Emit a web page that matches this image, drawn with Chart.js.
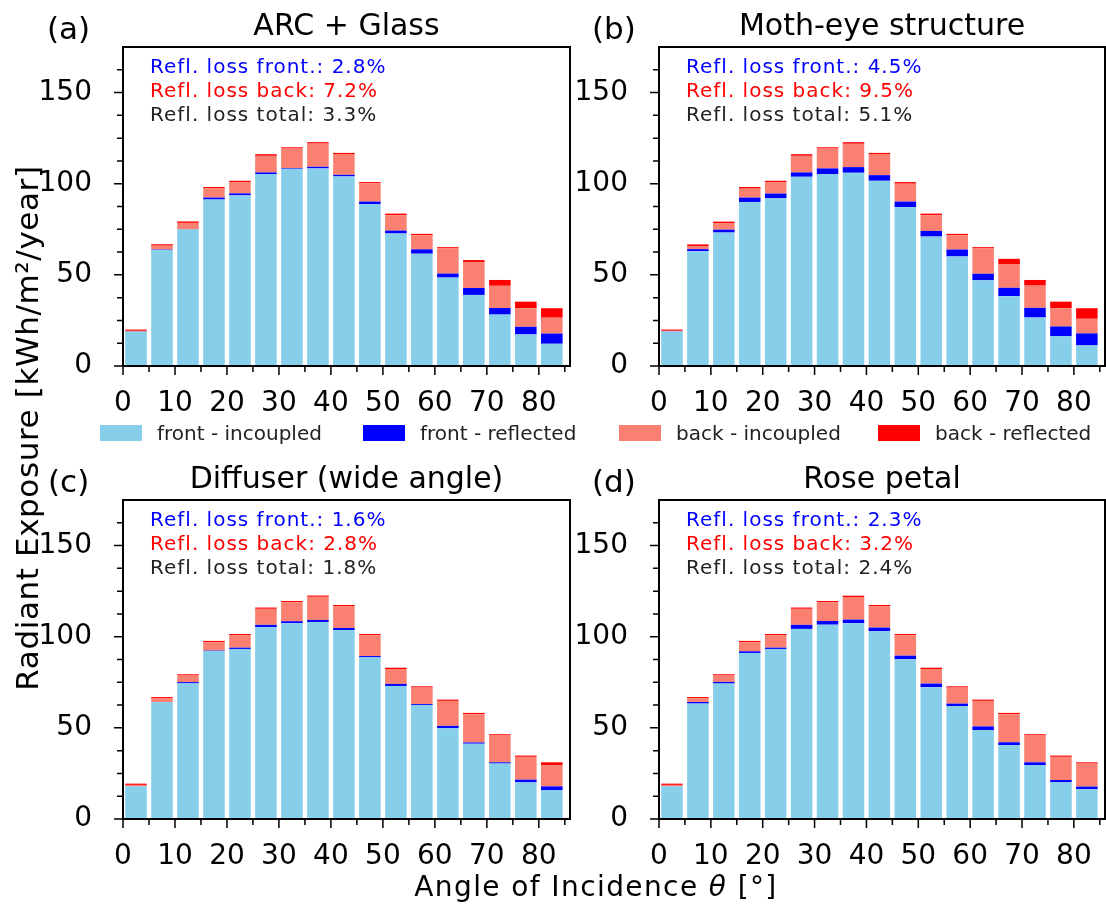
<!DOCTYPE html>
<html>
<head>
<meta charset="utf-8">
<script src="https://cdn.jsdelivr.net/npm/chart.js@4.4.1/dist/chart.umd.min.js"></script>
<style>
  body { margin: 0; background: #fff; }
  #fig { position: relative; width: 1106px; height: 905px; overflow: hidden; font-family: 'DejaVu Sans'; color: #000; }
  #fig canvas { position: absolute; left: 0; top: 0; }
  #ylab { position: absolute; width: 700px; height: 30px; line-height: 30px; font-size: 31px; text-align: center;
          left: -323px; top: 413px; transform: rotate(-90deg); white-space: nowrap; letter-spacing: 0.6px; }
  #xlab { position: absolute; width: 600px; left: 296px; top: 873px; font-size: 28px; line-height: 28px;
          text-align: center; letter-spacing: 1.4px; white-space: nowrap; }
  .leg { position: absolute; top: 423px; height: 20px; line-height: 20px; font-size: 20px; color: #222; white-space: nowrap; }
  .leg span.sw { position: absolute; left: 0; top: 2px; width: 42px; height: 16px; }
  .leg span.tx { position: absolute; left: 57px; top: 0; }
</style>
</head>
<body>
<div id="fig">
  <canvas id="pa" width="1106" height="905"></canvas>
  <canvas id="pb" width="1106" height="905"></canvas>
  <canvas id="pc" width="1106" height="905"></canvas>
  <canvas id="pd" width="1106" height="905"></canvas>
  <div id="ylab">Radiant Exposure [kWh/m²/year]</div>
  <div id="xlab">Angle of Incidence <i>θ</i> [°]</div>
  <div id="legend"></div>
</div>
<script>
// bin centres of the angle of incidence (5° bins)
const angles = [2.5, 7.5, 12.5, 17.5, 22.5, 27.5, 32.5, 37.5, 42.5, 47.5, 52.5, 57.5, 62.5, 67.5, 72.5, 77.5, 82.5]

const xMajor = [0, 10, 20, 30, 40, 50, 60, 70, 80]
const xMinor = [5, 15, 25, 35, 45, 55, 65, 75, 85]
const yMajor = [0, 50, 100, 150]
const yMinor = [12.5, 25, 37.5, 62.5, 75, 87.5, 112.5, 125, 137.5, 162.5]

const seriesNames = ['front - incoupled', 'front - reflected', 'back - incoupled', 'back - reflected']
const seriesColors = ['#87CEEB', '#0000FF', '#FA8072', '#FF0000']

// (a) ARC + Glass
const arcFrontIn   = [18.8, 63.7, 74.9, 91.3, 93.6, 105.3, 108.2, 108.4, 104.0, 88.7, 72.7, 61.6, 48.5, 39.0, 28.2, 17.3, 12.2]
const arcFrontRefl = [0.1, 0.2, 0.1, 1.1, 1.1, 0.9, 0.4, 0.9, 0.9, 1.5, 1.6, 2.4, 2.2, 3.8, 3.6, 4.2, 5.6]
const arcBackIn    = [0.4, 2.1, 3.5, 5.1, 6.0, 9.1, 10.7, 12.7, 11.1, 10.0, 8.4, 7.7, 13.8, 14.2, 12.2, 10.2, 8.7]
const arcBackRefl  = [0.7, 0.8, 0.8, 0.7, 0.9, 0.9, 0.7, 0.8, 0.9, 0.7, 0.9, 0.8, 0.7, 1.1, 3.2, 3.6, 5.2]

// (b) Moth-eye structure
const mothFrontIn   = [18.9, 63.0, 73.2, 90.0, 92.0, 103.8, 105.3, 106.0, 101.6, 87.1, 71.0, 60.1, 47.0, 38.3, 26.6, 16.4, 11.3]
const mothFrontRefl = [0.1, 1.1, 1.6, 2.4, 2.6, 2.4, 3.1, 3.1, 3.1, 3.1, 3.1, 3.8, 3.6, 4.6, 5.3, 5.3, 6.6]
const mothBackIn    = [0.3, 1.7, 3.6, 4.9, 6.1, 9.1, 10.9, 12.8, 11.3, 9.8, 8.6, 7.8, 13.9, 12.8, 12.2, 10.0, 8.0]
const mothBackRefl  = [0.7, 0.9, 0.8, 0.9, 0.9, 0.9, 0.7, 0.9, 0.9, 0.9, 0.9, 0.8, 0.7, 3.1, 3.1, 3.6, 5.8]

// (c) Diffuser (wide angle)
const diffFrontIn   = [17.9, 64.0, 74.4, 92.2, 93.3, 105.2, 107.4, 108.1, 103.7, 88.7, 73.0, 62.6, 49.8, 41.3, 30.4, 20.1, 15.9]
const diffFrontRefl = [0.1, 0.1, 0.7, 0.2, 0.7, 1.3, 1.1, 1.1, 1.1, 0.7, 1.1, 0.5, 1.3, 0.7, 0.7, 1.5, 2.0]
const diffBackIn    = [0.7, 2.1, 3.6, 4.6, 6.8, 8.8, 10.4, 12.7, 11.9, 11.4, 8.2, 9.0, 13.7, 15.5, 14.7, 12.5, 11.7]
const diffBackRefl  = [0.7, 0.7, 0.7, 0.7, 0.7, 0.7, 0.7, 0.7, 0.7, 0.7, 0.7, 0.7, 0.7, 0.7, 0.7, 0.7, 1.5]

// (d) Rose petal
const roseFrontIn   = [17.9, 63.3, 74.3, 91.1, 93.3, 104.3, 106.6, 107.4, 103.0, 87.6, 72.3, 62.0, 48.8, 40.6, 29.6, 20.1, 16.3]
const roseFrontRefl = [0.1, 0.9, 0.9, 0.9, 0.7, 2.2, 2.0, 2.0, 2.0, 2.0, 2.0, 1.3, 2.0, 1.5, 1.5, 1.3, 1.5]
const roseBackIn    = [0.7, 2.0, 3.5, 5.0, 6.8, 8.8, 10.3, 12.4, 11.7, 11.2, 8.0, 8.8, 14.0, 15.4, 14.7, 12.7, 12.6]
const roseBackRefl  = [0.7, 0.7, 0.7, 0.7, 0.7, 0.7, 0.7, 0.7, 0.7, 0.7, 0.7, 0.7, 0.7, 0.7, 0.7, 0.7, 0.7]

const titles = ['ARC + Glass', 'Moth-eye structure', 'Diffuser (wide angle)', 'Rose petal']
const letters = ['(a)', '(b)', '(c)', '(d)']
const lossFront = ['2.8%', '4.5%', '1.6%', '2.3%']
const lossBack = ['7.2%', '9.5%', '2.8%', '3.2%']
const lossTotal = ['3.3%', '5.1%', '1.8%', '2.4%']

const W = 1106, H = 905
const yAxisW = 100, xAxisH = 80

Chart.defaults.font.family = "'DejaVu Sans'"

// frame, minor/major ticks, title, panel letter and the loss texts
const panelDeco = {
  id: 'panelDeco',
  afterDraw(chart, args, o) {
    const { ctx, chartArea: a, scales: { x, y } } = chart
    ctx.save()
    ctx.strokeStyle = '#000'
    ctx.lineWidth = 1.5
    ctx.beginPath()
    xMajor.forEach(v => { const p = x.getPixelForValue(v); ctx.moveTo(p, a.bottom); ctx.lineTo(p, a.bottom + 9) })
    xMinor.forEach(v => { const p = x.getPixelForValue(v); ctx.moveTo(p, a.bottom); ctx.lineTo(p, a.bottom + 6) })
    yMajor.forEach(v => { const p = y.getPixelForValue(v); ctx.moveTo(a.left, p); ctx.lineTo(a.left - 9, p) })
    yMinor.forEach(v => { const p = y.getPixelForValue(v); ctx.moveTo(a.left, p); ctx.lineTo(a.left - 6, p) })
    ctx.stroke()
    ctx.lineWidth = 2
    ctx.strokeRect(a.left, a.top, a.right - a.left, a.bottom - a.top)

    ctx.fillStyle = '#000'
    ctx.textBaseline = 'alphabetic'
    ctx.font = "30px 'DejaVu Sans'"
    ctx.textAlign = 'center'
    ctx.fillText(o.title, (a.left + a.right) / 2, a.top - 12)

    ctx.textAlign = 'left'
    ctx.font = "31px 'DejaVu Sans'"
    ctx.fillText(o.letter, o.letterX, a.top - 8)

    ctx.font = "20px 'DejaVu Sans'"
    ctx.letterSpacing = '1px'
    ctx.fillStyle = '#0000FF'
    ctx.fillText('Refl. loss front.: ' + o.front, a.left + 27, a.top + 26)
    ctx.fillStyle = '#FF0000'
    ctx.fillText('Refl. loss back: ' + o.back, a.left + 27, a.top + 50)
    ctx.fillStyle = '#222'
    ctx.fillText('Refl. loss total: ' + o.total, a.left + 27, a.top + 74)
    ctx.restore()
  }
}

function makePanel(id, idx, box, series) {
  return new Chart(document.getElementById(id), {
    type: 'bar',
    data: {
      datasets: series.map((vals, k) => ({
        label: seriesNames[k],
        data: angles.map((ang, i) => ({ x: ang, y: vals[i] })),
        backgroundColor: seriesColors[k],
        borderWidth: 0
      }))
    },
    options: {
      responsive: false,
      animation: false,
      events: [],
      layout: { padding: { left: box.left - yAxisW, right: W - box.right, top: box.top, bottom: H - box.bottom - xAxisH } },
      datasets: { bar: { barPercentage: 0.83, categoryPercentage: 1 } },
      plugins: {
        legend: { display: false },
        tooltip: { enabled: false },
        panelDeco: { title: titles[idx], letter: letters[idx], letterX: box.letterX,
                     front: lossFront[idx], back: lossBack[idx], total: lossTotal[idx] }
      },
      scales: {
        x: {
          type: 'linear', stacked: true, min: 0, max: 86, offset: false,
          grid: { display: false }, border: { display: false },
          ticks: { font: { size: 28 }, color: '#000', padding: 13, maxRotation: 0, autoSkip: false, includeBounds: false },
          afterBuildTicks: s => { s.ticks = xMajor.map(v => ({ value: v })) },
          afterFit: s => { s.height = xAxisH }
        },
        y: {
          stacked: true, min: 0, max: 175,
          grid: { display: false }, border: { display: false },
          ticks: { font: { size: 28 }, color: '#000', padding: 23, includeBounds: false },
          afterBuildTicks: s => { s.ticks = yMajor.map(v => ({ value: v })) },
          afterFit: s => { s.width = yAxisW }
        }
      }
    },
    plugins: [panelDeco]
  })
}

makePanel('pa', 0, { left: 123, right: 570, top: 47, bottom: 366, letterX: 47 }, [arcFrontIn, arcFrontRefl, arcBackIn, arcBackRefl])
makePanel('pb', 1, { left: 659, right: 1105, top: 47, bottom: 366, letterX: 592 }, [mothFrontIn, mothFrontRefl, mothBackIn, mothBackRefl])
makePanel('pc', 2, { left: 123, right: 570, top: 500, bottom: 819, letterX: 48 }, [diffFrontIn, diffFrontRefl, diffBackIn, diffBackRefl])
makePanel('pd', 3, { left: 659, right: 1105, top: 500, bottom: 819, letterX: 592 }, [roseFrontIn, roseFrontRefl, roseBackIn, roseBackRefl])

// shared legend below the top row
const legendLeft = [100, 363, 619, 878]
const legend = document.getElementById('legend')
seriesNames.forEach((name, k) => {
  legend.innerHTML += `
    <div class="leg" style="left:${legendLeft[k]}px">
      <span class="sw" style="background:${seriesColors[k]}"></span>
      <span class="tx">${name}</span>
    </div>`
})
</script>
</body>
</html>
